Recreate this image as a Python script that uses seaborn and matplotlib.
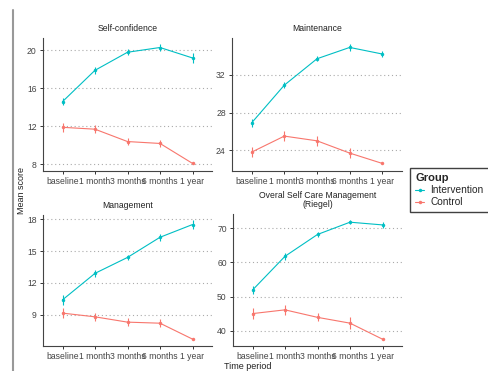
import matplotlib
matplotlib.use("Agg")
import matplotlib.pyplot as plt
import seaborn as sns
import pandas as pd
from matplotlib.lines import Line2D

time_labels = ["baseline", "1 month", "3 months", "6 months", "1 year"]
groups = ["Intervention", "Control"]
panel_titles = ["Self-confidence", "Maintenance", "Management",
                "Overal Self Care Management\n(Riegel)"]

selfconf_int = [14.6, 17.9, 19.8, 20.3, 19.2]
selfconf_ctl = [11.9, 11.7, 10.4, 10.2, 8.1]
selfconf_int_se = [0.4, 0.35, 0.3, 0.35, 0.5]
selfconf_ctl_se = [0.45, 0.45, 0.35, 0.4, 0.1]

maint_int = [26.9, 30.9, 33.7, 34.9, 34.2]
maint_ctl = [23.8, 25.5, 25.0, 23.7, 22.6]
maint_int_se = [0.45, 0.35, 0.25, 0.35, 0.35]
maint_ctl_se = [0.5, 0.5, 0.5, 0.5, 0.1]

manag_int = [10.4, 12.9, 14.4, 16.3, 17.5]
manag_ctl = [9.15, 8.8, 8.3, 8.2, 6.7]
manag_int_se = [0.45, 0.35, 0.25, 0.35, 0.45]
manag_ctl_se = [0.45, 0.35, 0.35, 0.35, 0.1]

overall_int = [51.9, 61.8, 68.2, 71.8, 71.0]
overall_ctl = [45.0, 46.1, 43.9, 42.2, 37.5]
overall_int_se = [1.2, 1.0, 0.7, 0.6, 0.8]
overall_ctl_se = [1.5, 1.5, 1.2, 1.8, 0.3]

panels = [
    (selfconf_int, selfconf_ctl, selfconf_int_se, selfconf_ctl_se, [8, 12, 16, 20], (7.3, 21.3)),
    (maint_int, maint_ctl, maint_int_se, maint_ctl_se, [24, 28, 32], (21.8, 35.9)),
    (manag_int, manag_ctl, manag_int_se, manag_ctl_se, [9, 12, 15, 18], (6.05, 18.4)),
    (overall_int, overall_ctl, overall_int_se, overall_ctl_se, [40, 50, 60, 70], (35.5, 74.2)),
]

palette = {"Intervention": "#00BFC4", "Control": "#F8766D"}

sns.set_style("white")
plt.rcParams["font.family"] = ["Liberation Sans", "DejaVu Sans"]

W, H = 488, 371
fig = plt.figure(figsize=(W / 100, H / 100), dpi=100)

# pixel boxes: left, right, top, bottom
boxes = [(43, 212, 38, 171), (232, 402, 38, 171), (43, 212, 215, 346), (233, 402, 214, 346)]

axes = []
for (l, r, t, b) in boxes:
    ax = fig.add_axes([l / W, 1 - b / H, (r - l) / W, (b - t) / H])
    axes.append(ax)

for ax, title, (yi, yc, si, sc, yt, ylim) in zip(axes, panel_titles, panels):
    df = pd.DataFrame({
        "time": list(range(5)) * 2,
        "score": yi + yc,
        "se": si + sc,
        "Group": ["Intervention"] * 5 + ["Control"] * 5,
    })
    sns.lineplot(data=df, x="time", y="score", hue="Group", palette=palette,
                 hue_order=groups, marker="o", markersize=2.5, markeredgewidth=0,
                 linewidth=0.8, ax=ax, legend=False)
    for g in groups:
        sub = df[df["Group"] == g]
        ax.errorbar(sub["time"], sub["score"], yerr=sub["se"], fmt="none",
                    ecolor=palette[g], elinewidth=0.8, capsize=0)
    ax.set_xlim(-0.6, 4.6)
    ax.set_ylim(*ylim)
    ax.set_yticks(yt)
    ax.set_xticks(range(5))
    ax.set_xticklabels(time_labels)
    ax.set_xlabel("")
    ax.set_ylabel("")
    ax.set_title(title, fontsize=6.2, color="#222222", pad=5, linespacing=1.05)
    ax.yaxis.grid(True, linestyle=(0, (1, 2.5)), color="#aaaaaa", linewidth=0.8)
    ax.xaxis.grid(False)
    ax.set_axisbelow(True)
    for s in ["top", "right"]:
        ax.spines[s].set_visible(False)
    for s in ["left", "bottom"]:
        ax.spines[s].set_color("#444444")
        ax.spines[s].set_linewidth(0.8)
    ax.tick_params(axis="both", labelsize=6.2, colors="#333333", length=2.5,
                   width=0.7, pad=2, direction="out", bottom=True, left=True)
    ax.tick_params(axis="both", labelcolor="#444444")

fig.text(22 / W, 1 - 190 / H, "Mean score", rotation=90, ha="center", va="center",
         fontsize=6.5, color="#222222")
fig.text(248 / W, 1 - 366.5 / H, "Time period", ha="center", va="center",
         fontsize=6.5, color="#222222")

handles = [Line2D([0], [0], color=palette[g], linewidth=0.8, marker="o",
                  markersize=2.5, markeredgewidth=0) for g in groups]
leg = fig.legend(handles, groups, title="Group", loc="upper left",
                 bbox_to_anchor=(410 / W, 1 - 168 / H), frameon=True,
                 fontsize=7.3, title_fontsize=8, handlelength=0.9,
                 handletextpad=0.6, borderpad=0.5, labelspacing=0.2,
                 borderaxespad=0, fancybox=False, alignment="left")
leg.get_title().set_fontweight("bold")
leg.get_frame().set_edgecolor("#111111")
leg.get_frame().set_linewidth(1.0)

# left border line present in the reference image
fig.add_artist(Line2D([13 / W, 13 / W], [0, 1 - 10 / H], color="#999999",
                      linewidth=1.5, transform=fig.transFigure))

fig.savefig("out.png", dpi=100)
